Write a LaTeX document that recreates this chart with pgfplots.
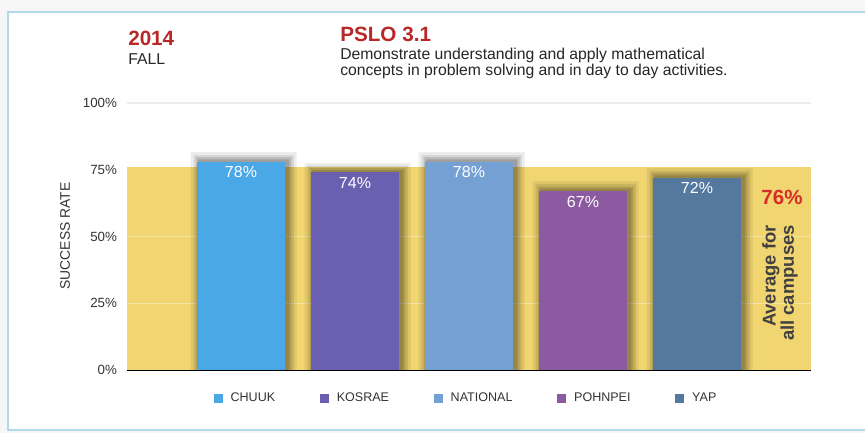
\documentclass[border=0pt]{standalone}
\usepackage{fontspec}
\setmainfont{Liberation Sans}
\usepackage{pgfplots}
\usepackage{pgfplotstable}
\pgfplotsset{compat=1.18}

\definecolor{chuuk}{RGB}{74,168,230}
\definecolor{kosrae}{RGB}{106,95,176}
\definecolor{national}{RGB}{117,160,212}
\definecolor{pohnpei}{RGB}{140,90,160}
\definecolor{yap}{RGB}{84,120,158}
\definecolor{bgyellow}{RGB}{241,213,112}
\definecolor{titlered}{RGB}{185,40,40}
\definecolor{avgred}{RGB}{215,45,40}
\definecolor{cardblue}{RGB}{178,216,236}

\newcommand{\fs}[1]{\fontsize{#1}{#1}\selectfont}

\pgfplotstableread{
x y
0 78
1 74
2 78
3 67
4 72
}\rates

\begin{document}
% coordinates: (x, 433-y) in reference pixels, 1px = 0.75pt
\begin{tikzpicture}[x=0.75pt,y=0.75pt]
\useasboundingbox (0,0) rectangle (865,433);
\fill[gray!7] (0,0) rectangle (865,433);
\filldraw[fill=white, draw=cardblue, line width=1.2pt] (8,3) rectangle (875,421);
\coordinate (axsw) at (127,63);

% titles
\node[anchor=base west, inner sep=0pt, text=titlered, font=\bfseries\fs{15.5}] at (128,387) {2014};
\node[anchor=base west, inner sep=0pt, text=black!85, font=\fs{11.8}] at (128,368) {FALL};
\node[anchor=base west, inner sep=0pt, text=titlered, font=\bfseries\fs{15.5}] at (340,391) {PSLO 3.1};
\node[anchor=base west, inner sep=0pt, text=black!85, font=\fs{11.8}] at (340,373) {Demonstrate understanding and apply mathematical};
\node[anchor=base west, inner sep=0pt, text=black!85, font=\fs{11.8}] at (340,357) {concepts in problem solving and in day to day activities.};

\node[rotate=90, text=black!80, font=\fs{10.4}] at (65,197) {SUCCESS RATE};

\begin{axis}[
  at={(axsw)}, anchor=south west,
  scale only axis, width=513pt, height=200.25pt,
  xmin=-1, xmax=5, ymin=0, ymax=100,
  ybar, bar shift=0pt, bar width=0.77,
  xtick=\empty,
  ytick={0,25,50,75,100},
  yticklabel={\pgfmathprintnumber{\tick}\%},
  /pgf/number format/assume math mode=true,
  yticklabel style={font=\fs{10}, text=black!80, xshift=-4pt},
  ymajorgrids, grid style={gray!15, line width=0.8pt},
  axis x line*=bottom, axis y line*=left,
  x axis line style={black, line width=1.1pt, -},
  y axis line style={draw=none},
  ytick style={draw=none},
  legend columns=5,
  legend style={at={(0.5,-0.105)}, anchor=center, draw=none, fill=none,
    font=\fs{9.4}, text=black!80,
    /tikz/every even column/.append style={column sep=27.5pt},
    nodes={inner xsep=6pt}},
  legend image code/.code={\fill[#1] (0pt,-3.4pt) rectangle (6.75pt,3.4pt);},
  campus/.style={draw=none,
    nodes near coords={\pgfmathprintnumber{\pgfplotspointmeta}\%},
    every node near coord/.append style={anchor=north, text=white, font=\fs{12}, inner sep=3.5pt}},
  shade/.style={draw=none, fill=black, forget plot, bar shift=2pt},
]
% yellow band up to the 76% campus average
\addplot[sharp plot, fill=bgyellow, draw=none, forget plot] coordinates {(-1,0) (-1,76) (5,76) (5,0)};
\addplot[sharp plot, draw=white, opacity=0.35, line width=0.8pt, forget plot] coordinates {(-1,50) (5,50)};
\addplot[sharp plot, draw=white, opacity=0.35, line width=0.8pt, forget plot] coordinates {(-1,25) (5,25)};
% soft shadows behind the bars
\addplot[shade, bar width=0.93, opacity=0.07] table[x=x, y expr=\thisrow{y}+3.6] {\rates};
\addplot[shade, bar width=0.88, opacity=0.09] table[x=x, y expr=\thisrow{y}+2.6] {\rates};
\addplot[shade, bar width=0.84, opacity=0.12] table[x=x, y expr=\thisrow{y}+1.7] {\rates};
\addplot[shade, bar width=0.80, opacity=0.15] table[x=x, y expr=\thisrow{y}+0.9] {\rates};
% bars
\addplot[campus, fill=chuuk] coordinates {(0,78)};
\addlegendentry{CHUUK}
\addplot[campus, fill=kosrae] coordinates {(1,74)};
\addlegendentry{KOSRAE}
\addplot[campus, fill=national] coordinates {(2,78)};
\addlegendentry{NATIONAL}
\addplot[campus, fill=pohnpei] coordinates {(3,67)};
\addlegendentry{POHNPEI}
\addplot[campus, fill=yap] coordinates {(4,72)};
\addlegendentry{YAP}
\end{axis}

\node[text=avgred, font=\bfseries\fs{15.4}] at (782,236) {76\%};
\node[rotate=90, anchor=east, align=right, text=black!75, font=\bfseries\fs{13.8}, inner sep=0pt] at (780,208) {Average for\\all campuses};
\end{tikzpicture}
\end{document}
